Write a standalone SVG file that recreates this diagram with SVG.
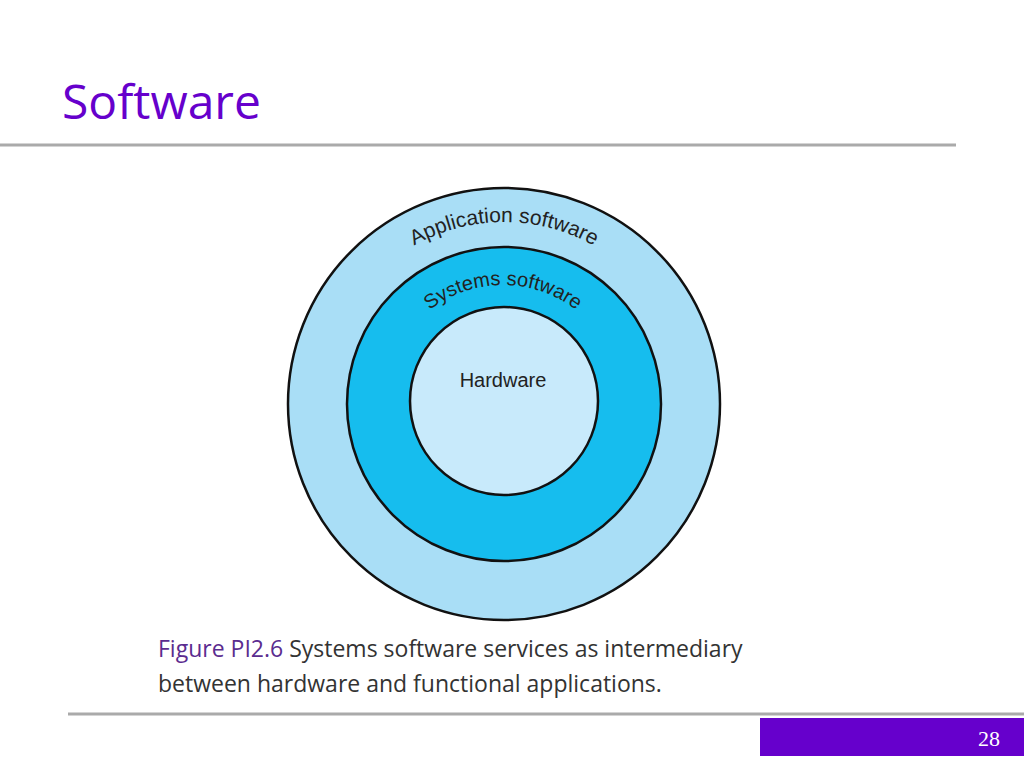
<svg xmlns="http://www.w3.org/2000/svg" width="1024" height="768" viewBox="0 0 1024 768">
<style>
.ring{stroke:#111;stroke-width:2.5}
.lbl{font-family:"Liberation Sans",Arial,sans-serif;fill:#222}
.cap{font-family:"Open Sans","Liberation Sans",sans-serif;font-size:23px;fill:#333}
</style>
<defs>
<path id="arcA" d="M 321 405 A 183 183 0 0 1 687 405"/>
<path id="arcS" d="M 383 405 A 120 120 0 0 1 623 405"/>
</defs>
<rect width="1024" height="768" fill="#fff"/>
<text x="62" y="119" font-family="'Open Sans','DejaVu Sans',sans-serif" font-size="48" fill="#6600CC">Software</text>
<line x1="0" y1="145" x2="956" y2="145" stroke="#aaa" stroke-width="3"/>
<g id="application"><circle class="ring" cx="504" cy="404" r="216" fill="#A9DEF6"/>
<text class="lbl" font-size="21"><textPath href="#arcA" startOffset="50%" text-anchor="middle">Application software</textPath></text></g>
<g id="systems"><circle class="ring" cx="504" cy="404" r="157" fill="#16BDEE"/>
<text class="lbl" font-size="20"><textPath href="#arcS" startOffset="50%" text-anchor="middle">Systems software</textPath></text></g>
<g id="hardware"><circle class="ring" cx="504" cy="401" r="94" fill="#C8EAFB"/>
<text class="lbl" x="503" y="387" font-size="20" text-anchor="middle">Hardware</text></g>
<g id="connectors"/>
<text class="cap" x="158" y="657"><tspan fill="#5B2C8F">Figure PI2.6</tspan> Systems software services as intermediary</text>
<text class="cap" x="158" y="692">between hardware and functional applications.</text>
<line x1="68" y1="714" x2="1024" y2="714" stroke="#aaa" stroke-width="3"/>
<rect x="760" y="718" width="264" height="38" fill="#6600CC"/>
<text x="1000" y="746" text-anchor="end" font-family="'Liberation Serif',serif" font-size="22" fill="#fff">28</text>
</svg>
